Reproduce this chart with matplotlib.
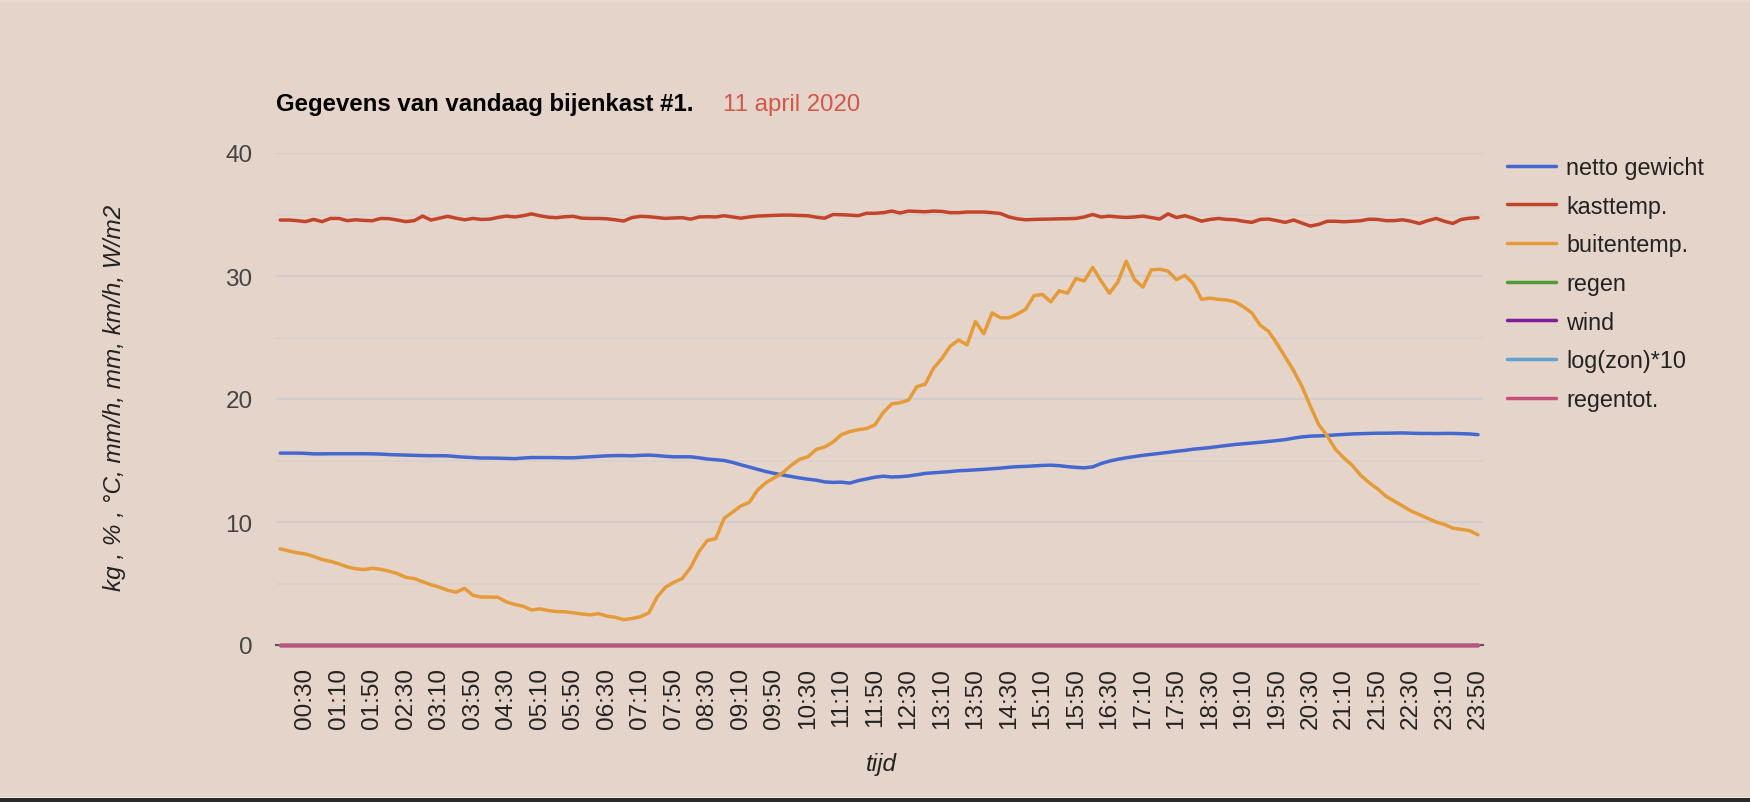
import matplotlib.pyplot as plt
from matplotlib.patches import Rectangle

# ----- data (10 minute steps) -----

times = ['%02d:%02d' % (h, m) for h in range(24) for m in range(0, 60, 10)]

netto_gewicht = [
    15.6, 15.6, 15.6, 15.58, 15.54, 15.54, 15.55, 15.55, 15.55, 15.55,
    15.55, 15.54, 15.52, 15.48, 15.46, 15.44, 15.42, 15.4, 15.39, 15.39,
    15.38, 15.32, 15.27, 15.24, 15.2, 15.2, 15.19, 15.17, 15.15, 15.2,
    15.24, 15.24, 15.24, 15.23, 15.22, 15.22, 15.26, 15.3, 15.34, 15.38,
    15.4, 15.4, 15.38, 15.42, 15.44, 15.4, 15.34, 15.3, 15.3, 15.3,
    15.22, 15.12, 15.06, 15.0, 14.85, 14.65, 14.47, 14.28, 14.1, 13.95,
    13.82, 13.7, 13.58, 13.48, 13.4, 13.26, 13.22, 13.24, 13.16, 13.36,
    13.5, 13.64, 13.72, 13.66, 13.68, 13.74, 13.84, 13.95, 14.0, 14.05,
    14.1, 14.17, 14.2, 14.24, 14.28, 14.33, 14.38, 14.45, 14.5, 14.52,
    14.56, 14.6, 14.62, 14.58, 14.5, 14.44, 14.4, 14.48, 14.75, 14.95,
    15.1, 15.22, 15.32, 15.42, 15.5, 15.58, 15.66, 15.75, 15.82, 15.92,
    15.98, 16.05, 16.14, 16.22, 16.3, 16.36, 16.42, 16.48, 16.55, 16.62,
    16.7, 16.82, 16.92, 16.98, 17.0, 17.03, 17.08, 17.12, 17.16, 17.18,
    17.2, 17.22, 17.22, 17.23, 17.24, 17.22, 17.2, 17.2, 17.19, 17.2,
    17.2, 17.18, 17.16, 17.1,
]

kasttemp = [
    34.55, 34.55, 34.5, 34.42, 34.6, 34.42, 34.68, 34.68, 34.5, 34.57,
    34.52, 34.49, 34.68, 34.66, 34.55, 34.42, 34.5, 34.87, 34.55, 34.7,
    34.85, 34.7, 34.57, 34.68, 34.6, 34.62, 34.76, 34.87, 34.8, 34.9,
    35.05, 34.9, 34.78, 34.74, 34.82, 34.85, 34.7, 34.68, 34.68, 34.65,
    34.57, 34.47, 34.75, 34.85, 34.82, 34.75, 34.68, 34.72, 34.74, 34.62,
    34.8, 34.82, 34.8, 34.9, 34.8, 34.7, 34.8, 34.87, 34.9, 34.93,
    34.95, 34.95, 34.92, 34.9, 34.78, 34.7, 35.0, 34.98, 34.95, 34.9,
    35.1, 35.1, 35.15, 35.28, 35.12, 35.28, 35.25, 35.22, 35.28, 35.25,
    35.15, 35.15, 35.2, 35.2, 35.2, 35.15, 35.08, 34.8, 34.65, 34.57,
    34.6, 34.62, 34.63, 34.65, 34.66, 34.68, 34.8, 35.0, 34.8, 34.87,
    34.8, 34.76, 34.8, 34.87, 34.75, 34.63, 35.05, 34.75, 34.9, 34.7,
    34.46, 34.6, 34.68, 34.6, 34.57, 34.45, 34.36, 34.6, 34.63, 34.5,
    34.36, 34.55, 34.3, 34.06, 34.2, 34.45, 34.45, 34.41, 34.45, 34.49,
    34.62, 34.6, 34.5, 34.5, 34.57, 34.45, 34.27, 34.5, 34.68, 34.45,
    34.27, 34.6, 34.7, 34.74,
]

buitentemp = [
    7.82, 7.65, 7.5, 7.4, 7.2, 6.95, 6.8, 6.6, 6.35, 6.2,
    6.13, 6.24, 6.15, 6.0, 5.8, 5.5, 5.4, 5.15, 4.9, 4.7,
    4.45, 4.29, 4.61, 4.05, 3.9, 3.9, 3.88, 3.5, 3.3, 3.15,
    2.85, 2.93, 2.8, 2.72, 2.7, 2.62, 2.52, 2.45, 2.55, 2.35,
    2.25, 2.06, 2.15, 2.3, 2.6, 3.9, 4.7, 5.1, 5.4, 6.3,
    7.6, 8.5, 8.65, 10.3, 10.8, 11.3, 11.6, 12.6, 13.2, 13.6,
    14.0, 14.6, 15.1, 15.3, 15.9, 16.1, 16.5, 17.1, 17.35, 17.5,
    17.6, 17.9, 18.9, 19.6, 19.7, 19.9, 21.0, 21.2, 22.5, 23.3,
    24.3, 24.8, 24.4, 26.3, 25.3, 27.0, 26.6, 26.6, 26.9, 27.3,
    28.4, 28.5, 27.9, 28.8, 28.6, 29.8, 29.6, 30.7, 29.6, 28.6,
    29.5, 31.2, 29.7, 29.1, 30.5, 30.55, 30.4, 29.7, 30.05, 29.4,
    28.1, 28.2, 28.1, 28.05, 27.9, 27.5, 27.0, 26.0, 25.5, 24.5,
    23.4, 22.3, 21.0, 19.4, 17.9, 17.0, 15.9, 15.2, 14.6, 13.8,
    13.2, 12.7, 12.1, 11.7, 11.3, 10.9, 10.6, 10.3, 10.0, 9.8,
    9.5, 9.4, 9.3, 8.96,
]

# no rain, wind or sun logged today: flat at zero
regen = [0.0] * len(times)
wind = [0.0] * len(times)
log_zon = [0.0] * len(times)
regentot = [0.0] * len(times)

series = [
    ('netto gewicht', netto_gewicht, '#4468cf'),
    ('kasttemp.', kasttemp, '#c2452b'),
    ('buitentemp.', buitentemp, '#e69b3a'),
    ('regen', regen, '#4f9a34'),
    ('wind', wind, '#7e1c9e'),
    ('log(zon)*10', log_zon, '#5ea2cf'),
    ('regentot.', regentot, '#c4507b'),
]

y_ticks = [0, 10, 20, 30, 40]

# ----- chart -----

BG = '#e5d4ca'
W, H = 1750, 803

plt.rcParams['font.family'] = ['Liberation Sans', 'DejaVu Sans']

fig = plt.figure(figsize=(W / 100, H / 100), dpi=100, facecolor=BG)
ax = fig.add_axes([276 / W, (H - 646) / H, 1207 / W, (646 - 154) / H])
ax.set_facecolor(BG)

# screenshot edges
fig.add_artist(Rectangle((0, 1 - 4 / H), 1, 4 / H, transform=fig.transFigure,
                         color='#e8d9cf', lw=0, zorder=-1))
fig.add_artist(Rectangle((0, 0), 1, 4 / H, transform=fig.transFigure,
                         color='#2a2a2a', lw=0))
fig.add_artist(Rectangle((0, 4 / H), 1, 1 / H, transform=fig.transFigure,
                         color='#f2e8e2', lw=0))

x = list(range(len(times)))

# gridlines
for v in [5, 15, 25, 35]:
    ax.axhline(v, color='#dbd1cb', lw=1.3, zorder=1)
for v in y_ticks[1:]:
    ax.axhline(v, color='#d2cdcb', lw=1.5, zorder=1)
ax.axhline(0, color='#555555', lw=1.5, zorder=1, clip_on=False)

for name, vals, col in series:
    ax.plot(x, vals, color=col, lw=2.5, label=name, zorder=3, clip_on=False,
            solid_joinstyle='round', solid_capstyle='round')

ax.set_xlim(-0.5, len(times) - 0.4)
ax.set_ylim(0, 40)

ax.set_yticks(y_ticks)
ax.set_yticklabels([str(v) for v in y_ticks])
ax.set_xticks(x[3::4])
ax.set_xticklabels(times[3::4], rotation=90)
ax.tick_params(axis='y', length=0, pad=17, labelsize=17.5, labelcolor='#444444')
ax.tick_params(axis='x', length=0, pad=16, labelsize=17.5, labelcolor='#222222')
for s in ax.spines.values():
    s.set_visible(False)

fig.text(115 / W, 1 - 398 / H, 'kg , % , °C, mm/h, mm, km/h, W/m2', rotation=90,
         ha='center', va='center', fontsize=17.5, style='italic', color='#222222')
fig.text(881 / W, 1 - 765 / H, 'tijd', ha='center', va='center',
         fontsize=17.5, style='italic', color='#222222')

fig.text(276 / W, 1 - 105 / H, 'Gegevens van vandaag bijenkast #1.', ha='left',
         va='center', fontsize=17.3, fontweight='bold', color='#000000')
fig.text(723 / W, 1 - 105 / H, '11 april 2020', ha='left', va='center',
         fontsize=17.3, color='#d2584a')

leg = ax.legend(loc='upper left', bbox_to_anchor=(1507 / W, 1 - 157 / H),
                bbox_transform=fig.transFigure, frameon=False, fontsize=16.8,
                handlelength=2.1, handletextpad=0.45, labelspacing=0.67,
                borderpad=0, borderaxespad=0)
for t in leg.get_texts():
    t.set_color('#222222')

plt.savefig('out.png', dpi=100, facecolor=BG)
plt.close()
